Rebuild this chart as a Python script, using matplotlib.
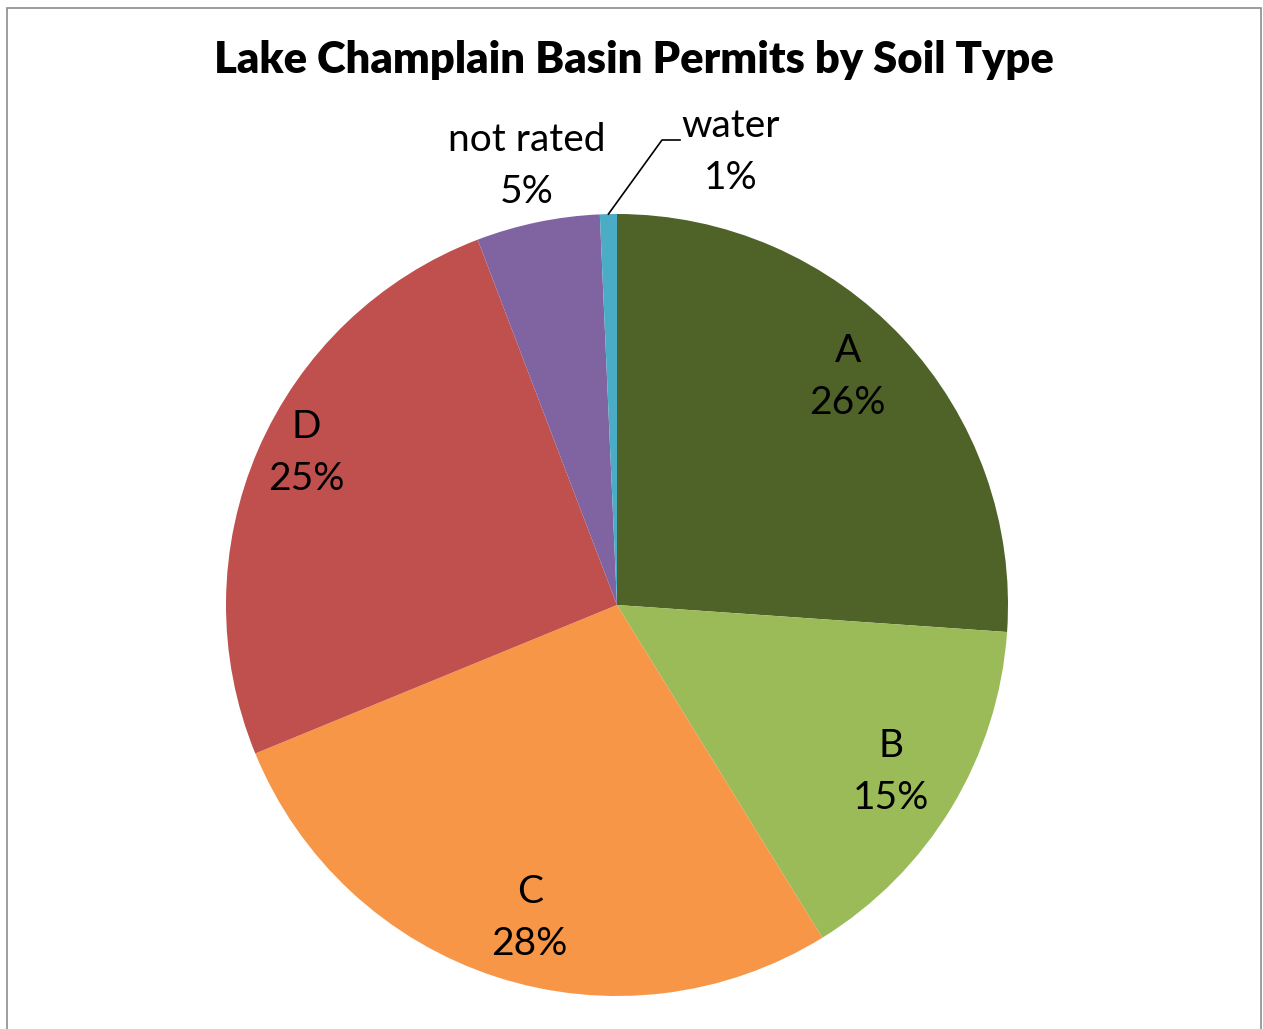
import matplotlib
matplotlib.use("Agg")
import matplotlib.pyplot as plt
from matplotlib.patches import Rectangle
import numpy as np

# ---- data ----
categories = ["A", "B", "C", "D", "not rated", "water"]
shares = [26.1, 15.1, 27.6, 25.4, 5.1, 0.7]
colors = ["#4F6228", "#9BBB59", "#F79646", "#C0504D", "#8064A2", "#4BACC6"]
title = "Lake Champlain Basin Permits by Soil Type"

# label layout: (angle in degrees, radius) for each label centre
label_polar = [(44.7, 0.83), (-31.3, 0.82), (-105.6, 0.83), (153.9, 0.885), (101.6, 1.146), (75.9, 1.195)]

FONT = "Lato"
W, H = 1263, 1029
fig = plt.figure(figsize=(W / 100, H / 100), dpi=100)

# chart border
fig.patches.append(Rectangle((7 / W, -0.05), (1261 - 7) / W, (H - 8) / H + 0.05,
                             transform=fig.transFigure, fill=False,
                             edgecolor="#8C8C8C", linewidth=1.2))

cx, cy, r = 617, 605, 391
ax = fig.add_axes([(cx - r) / W, (H - cy - r) / H, 2 * r / W, 2 * r / H])

wedges, _ = ax.pie(shares, colors=colors, startangle=90, counterclock=False,
                   radius=1.0, wedgeprops=dict(linewidth=0))
ax.set_xlim(-1, 1)
ax.set_ylim(-1, 1)
ax.set_aspect("equal")
ax.axis("off")

total = sum(shares)
for cat, val, (ang, rad) in zip(categories, shares, label_polar):
    x = rad * np.cos(np.radians(ang))
    y = rad * np.sin(np.radians(ang))
    ax.text(x, y, f"{cat}\n{round(val / total * 100):.0f}%", ha="center", va="center",
            fontsize=28, family=FONT, linespacing=1.55, color="black", clip_on=False)

# leader line for the water slice
w = wedges[-1]
mid = np.radians((w.theta1 + w.theta2) / 2)
x0, y0 = np.cos(mid), np.sin(mid)
ex, ey = (662 - cx) / r, (cy - 140) / r
ax.plot([x0, ex, ex + 18 / r], [y0, ey, ey], color="black", linewidth=1.2, clip_on=False)

fig.text(634 / W, 1 - 60 / H, title, ha="center", va="center",
         fontsize=31.3, fontweight="heavy", family=FONT)

fig.savefig("out.png", dpi=100)
